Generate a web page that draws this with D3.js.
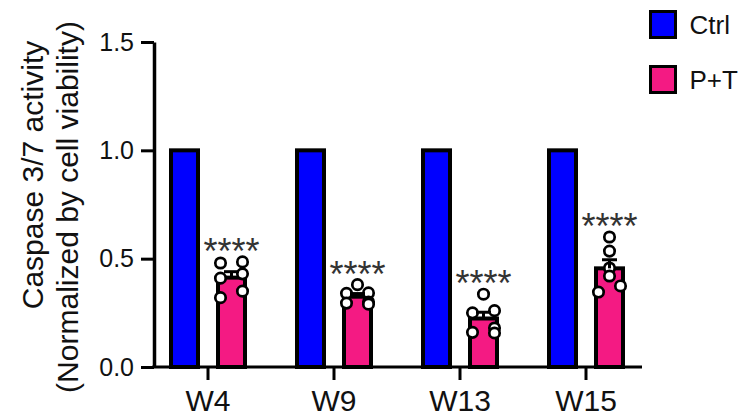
<!DOCTYPE html>
<html>
<head>
<meta charset="utf-8">
<script src="https://cdn.jsdelivr.net/npm/d3@7"></script>
<style>
  body { margin: 0; background: #fff; }
  text { font-family: "Liberation Sans", Arial, sans-serif; }
</style>
</head>
<body>
<div id="chart"></div>
<script>
// Data
var categories = ["W4", "W9", "W13", "W15"];
var groups = ["Ctrl", "P+T"];
var ctrlValues = [1, 1, 1, 1];
var ptPoints = [
  [0.485, 0.48, 0.43, 0.41, 0.35, 0.32],
  [0.38, 0.342, 0.34, 0.30, 0.295, 0.29],
  [0.336, 0.26, 0.25, 0.18, 0.16, 0.157],
  [0.60, 0.535, 0.457, 0.42, 0.374, 0.346]
];
var starLabels = ["****", "****", "****", "****"];
var yTicks = [0, 0.5, 1.0, 1.5];
var colors = { "Ctrl": "#0000ff", "P+T": "#f41a83" };

document.addEventListener("DOMContentLoaded", function () {
  var width = 740, height = 416;
  var left = 154, bottom = 367, top = 42, axisEnd = 642;

  var svg = d3.select("#chart").append("svg")
    .attr("width", width)
    .attr("height", height);

  // scales
  var y = d3.scaleLinear().domain([0, 1.5]).range([bottom, top]);
  var x0 = d3.scaleBand().domain(categories).range([145, 649]);
  var x1 = d3.scaleBand().domain(groups).range([16, 110]);
  var barW = 27;

  // summary stats for P+T
  var ptMean = ptPoints.map(function (p) { return d3.mean(p); });
  var ptSem = ptPoints.map(function (p) { return d3.deviation(p) / Math.sqrt(p.length); });

  var rows = [];
  categories.forEach(function (c, i) {
    rows.push({ cat: c, grp: "Ctrl", value: ctrlValues[i] });
    rows.push({ cat: c, grp: "P+T", value: ptMean[i] });
  });

  function cx(cat, grp) { return x0(cat) + x1(grp) + x1.bandwidth() / 2; }

  // bars
  svg.append("g").selectAll("rect")
    .data(rows)
    .enter().append("rect")
    .attr("x", function (d) { return cx(d.cat, d.grp) - barW / 2; })
    .attr("y", function (d) { return y(d.value); })
    .attr("width", barW)
    .attr("height", function (d) { return y(0) - y(d.value); })
    .attr("fill", function (d) { return colors[d.grp]; })
    .attr("stroke", "#000")
    .attr("stroke-width", 4);

  // scatter points: isolated points sit in the middle, crowded ones alternate sides
  var spread = 11;
  var dots = [];
  ptPoints.forEach(function (pts, i) {
    var center = cx(categories[i], "P+T");
    var ys = pts.slice().sort(function (a, b) { return b - a; }).map(y);
    var side = 1;
    ys.forEach(function (py, k) {
      var up = k > 0 ? py - ys[k - 1] : Infinity;
      var down = k < ys.length - 1 ? ys[k + 1] - py : Infinity;
      var dx = 0;
      if (up < 8 || down < 8) { dx = side * spread; side = -side; }
      dots.push({ x: center + dx, y: py });
    });
  });

  svg.append("g").selectAll("circle")
    .data(dots)
    .enter().append("circle")
    .attr("cx", function (d) { return d.x; })
    .attr("cy", function (d) { return d.y; })
    .attr("r", 5.2)
    .attr("fill", "#fff")
    .attr("stroke", "#000")
    .attr("stroke-width", 2.7);

  // error bars (mean + SEM)
  var err = svg.append("g").attr("stroke", "#000").attr("stroke-width", 3);
  ptMean.forEach(function (m, i) {
    var c = cx(categories[i], "P+T");
    err.append("line")
      .attr("x1", c).attr("x2", c)
      .attr("y1", y(m)).attr("y2", y(m + ptSem[i]));
    err.append("line")
      .attr("x1", c - 7.5).attr("x2", c + 7.5)
      .attr("y1", y(m + ptSem[i])).attr("y2", y(m + ptSem[i]));
  });

  // significance stars
  svg.append("g").selectAll("text")
    .data(starLabels)
    .enter().append("text")
    .attr("x", function (d, i) { return cx(categories[i], "P+T"); })
    .attr("y", function (d, i) { return y(d3.max(ptPoints[i])) + 2; })
    .attr("text-anchor", "middle")
    .attr("font-size", 36)
    .attr("fill", "#333")
    .text(function (d) { return d; });

  // y axis
  var yAxis = svg.append("g")
    .attr("transform", "translate(" + left + ",0)")
    .call(d3.axisLeft(y).tickValues(yTicks).tickFormat(d3.format(".1f"))
      .tickSize(13).tickSizeOuter(0).tickPadding(7));
  yAxis.select(".domain").attr("stroke-width", 3.5);
  yAxis.selectAll(".tick line").attr("stroke-width", 3);
  yAxis.selectAll(".tick text").attr("font-size", 25).attr("fill", "#111")
    .attr("font-family", "Liberation Sans, Arial, sans-serif");

  // x axis
  var xAxis = svg.append("g")
    .attr("transform", "translate(0," + bottom + ")")
    .call(d3.axisBottom(x0).tickSize(13).tickSizeOuter(0).tickPadding(10));
  xAxis.select(".domain").remove();
  xAxis.append("line")
    .attr("x1", left - 1.75).attr("x2", axisEnd)
    .attr("stroke", "#000").attr("stroke-width", 3);
  xAxis.selectAll(".tick line").attr("stroke-width", 3);
  xAxis.selectAll(".tick text").attr("font-size", 30).attr("fill", "#111")
    .attr("font-family", "Liberation Sans, Arial, sans-serif");

  // y title, two lines
  svg.append("text")
    .attr("transform", "translate(43,175) rotate(-90)")
    .attr("text-anchor", "middle")
    .attr("font-size", 30)
    .attr("fill", "#111")
    .text("Caspase 3/7 activity");
  svg.append("text")
    .attr("transform", "translate(78,207) rotate(-90)")
    .attr("text-anchor", "middle")
    .attr("font-size", 30)
    .attr("fill", "#111")
    .text("(Normalized by cell viability)");

  // legend
  var legend = svg.append("g").selectAll("g")
    .data(groups)
    .enter().append("g")
    .attr("transform", function (d, i) { return "translate(650.5," + (11.5 + i * 55) + ")"; });
  legend.append("rect")
    .attr("width", 25).attr("height", 26)
    .attr("fill", function (d) { return colors[d]; })
    .attr("stroke", "#000").attr("stroke-width", 3);
  legend.append("text")
    .attr("x", 39).attr("y", 22.5)
    .attr("font-size", 26)
    .attr("fill", "#111")
    .text(function (d) { return d; });
});
</script>
</body>
</html>
